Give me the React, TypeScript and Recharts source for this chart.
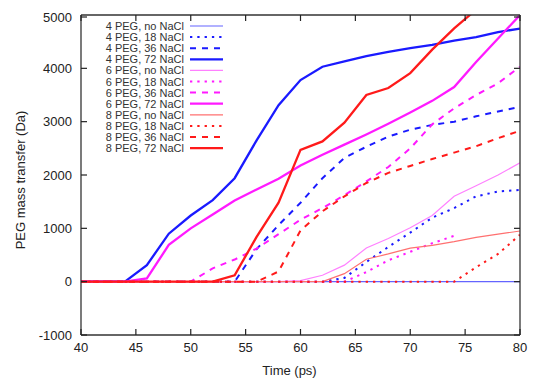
import { LineChart, Line, XAxis, YAxis, Legend, Label } from "recharts";

// time axis (ps), sampled every 2 ps
const TIME = [40, 42, 44, 46, 48, 50, 52, 54, 56, 58, 60, 62, 64, 66, 68, 70, 72, 74, 76, 78, 80];

// PEG mass transfer (Da)
const PEG4_NONE = [0, 0, 0, 0, 0, 0, 0, 0, 0, 0, 0, 0, 0, 0, 0, 0, 0, 0, 0, 0, 0];
const PEG4_18 = [0, 0, 0, 0, 0, 0, 0, 0, 0, 0, 0, 0, 70, 370, 650, 920, 1200, 1380, 1600, 1690, 1720];
const PEG4_36 = [0, 0, 0, 0, 0, 0, 0, 0, 610, 1060, 1480, 1940, 2320, 2530, 2720, 2850, 2940, 3000, 3100, 3190, 3280];
const PEG4_72 = [0, 0, 0, 310, 900, 1240, 1530, 1940, 2650, 3310, 3780, 4030, 4130, 4230, 4310, 4380, 4440, 4520, 4585, 4680, 4745];

const PEG6_NONE = [0, 0, 0, 0, 0, 0, 0, 0, 0, 0, 20, 120, 310, 630, 810, 1010, 1240, 1600, 1800, 2000, 2230];
const PEG6_18 = [0, 0, 0, 0, 0, 0, 0, 0, 0, 0, 0, 0, 0, 180, 400, 560, 720, 860, null, null, null];
const PEG6_36 = [0, 0, 0, 0, 0, 0, 250, 415, 620, 890, 1160, 1380, 1620, 1880, 2150, 2500, 2950, 3250, 3500, 3720, 4030];
const PEG6_72 = [0, 0, 0, 60, 690, 1000, 1260, 1520, 1730, 1930, 2180, 2380, 2570, 2760, 2960, 3170, 3390, 3650, 4120, 4560, 5000];

const PEG8_NONE = [0, 0, 0, 0, 0, 0, 0, 0, 0, 0, 0, 0, 150, 420, 520, 630, 680, 750, 830, 890, 950];
const PEG8_18 = [0, 0, 0, 0, 0, 0, 0, 0, 0, 0, 0, 0, 0, 0, 0, 0, 0, 0, 270, 520, 880];
const PEG8_36 = [0, 0, 0, 0, 0, 0, 0, 0, 0, 190, 960, 1320, 1600, 1850, 2040, 2170, 2300, 2420, 2540, 2690, 2830];
const PEG8_72 = [0, 0, 0, 0, 0, 0, 0, 120, 840, 1480, 2470, 2630, 2980, 3500, 3630, 3910, 4350, 4750, 5100, 5400, 5700];

const X_TICKS = [40, 45, 50, 55, 60, 65, 70, 75, 80];
const Y_TICKS = [-1000, 0, 1000, 2000, 3000, 4000, 5000];

const FONT = "'Liberation Sans', Arial, sans-serif";
const INK = "#222";
const DOT = "2.3 5";
const DASH = "6 6";
const TICK_LEN = 6;
const LABEL_GAP = 9;

const SERIES = [
  { key: "p4n", name: "4 PEG, no NaCl", values: PEG4_NONE, color: "#6464ff", width: 1.1, dash: undefined },
  { key: "p4a", name: "4 PEG, 18 NaCl", values: PEG4_18, color: "#1a1aff", width: 2, dash: DOT },
  { key: "p4b", name: "4 PEG, 36 NaCl", values: PEG4_36, color: "#1a1aff", width: 2, dash: DASH },
  { key: "p4c", name: "4 PEG, 72 NaCl", values: PEG4_72, color: "#1a1aff", width: 2.3, dash: undefined },
  { key: "p6n", name: "6 PEG, no NaCl", values: PEG6_NONE, color: "#ff80ff", width: 1.2, dash: undefined },
  { key: "p6a", name: "6 PEG, 18 NaCl", values: PEG6_18, color: "#ff1aff", width: 2, dash: DOT },
  { key: "p6b", name: "6 PEG, 36 NaCl", values: PEG6_36, color: "#ff1aff", width: 2, dash: DASH },
  { key: "p6c", name: "6 PEG, 72 NaCl", values: PEG6_72, color: "#ff1aff", width: 2.3, dash: undefined },
  { key: "p8n", name: "8 PEG, no NaCl", values: PEG8_NONE, color: "#ff7070", width: 1.2, dash: undefined },
  { key: "p8a", name: "8 PEG, 18 NaCl", values: PEG8_18, color: "#ff1a1a", width: 2, dash: DOT },
  { key: "p8b", name: "8 PEG, 36 NaCl", values: PEG8_36, color: "#ff1a1a", width: 2, dash: DASH },
  { key: "p8c", name: "8 PEG, 72 NaCl", values: PEG8_72, color: "#ff1a1a", width: 2.3, dash: undefined },
];

const data = TIME.map((t, i) => {
  const row: Record<string, number | null> = { t };
  SERIES.forEach((s) => {
    row[s.key] = s.values[i];
  });
  return row;
});

// gnuplot style: ticks point into the plot, labels outside
function BottomTick({ x, y, payload }: any) {
  const axisY = y - LABEL_GAP;
  return (
    <g>
      <line x1={x} x2={x} y1={axisY} y2={axisY - TICK_LEN} stroke={INK} strokeWidth={1.2} />
      <text x={x} y={axisY + 8} dy="0.71em" textAnchor="middle" fontSize={13} fontFamily={FONT} fill={INK}>
        {payload.value}
      </text>
    </g>
  );
}

function LeftTick({ x, y, payload }: any) {
  const axisX = x + LABEL_GAP;
  return (
    <g>
      <line x1={axisX} x2={axisX + TICK_LEN} y1={y} y2={y} stroke={INK} strokeWidth={1.2} />
      <text x={x} y={y} dy="0.36em" textAnchor="end" fontSize={13} fontFamily={FONT} fill={INK}>
        {payload.value}
      </text>
    </g>
  );
}

function TopTick({ x, y }: any) {
  return <line x1={x} x2={x} y1={y} y2={y + TICK_LEN} stroke={INK} strokeWidth={1.2} />;
}

function RightTick({ x, y }: any) {
  return <line x1={x - TICK_LEN} x2={x} y1={y} y2={y} stroke={INK} strokeWidth={1.2} />;
}

function LegendBox() {
  return (
    <svg width={240} height={160} style={{ display: "block" }}>
      {SERIES.map((s, i) => {
        const y = 18 + i * 11.1;
        return (
          <g key={s.key}>
            <text x={176} y={y} textAnchor="end" dominantBaseline="central" fontSize={11} fontFamily={FONT} fill="#333">
              {s.name}
            </text>
            <line x1={182} x2={215} y1={y} y2={y} stroke={s.color} strokeWidth={s.width} strokeDasharray={s.dash} />
          </g>
        );
      })}
    </svg>
  );
}

function YTitle(props: any) {
  const vb = props.viewBox || { x: 0, y: 0, width: 0, height: 0 };
  const cx = vb.x + 12;
  const cy = vb.y + vb.height / 2 + 5;
  return (
    <text x={cx} y={cy} transform={`rotate(-90, ${cx}, ${cy})`} textAnchor="middle" dominantBaseline="central" fontSize={13} fontFamily={FONT} fill={INK}>
      PEG mass transfer (Da)
    </text>
  );
}

const axisLine = { stroke: "#333", strokeWidth: 1.3 };

export default function App() {
  return (
    <div style={{ width: 535, height: 374 }}>
      <LineChart width={535} height={374} data={data} margin={{ top: 6, right: 22, bottom: 0, left: 0 }}>
        <XAxis
          dataKey="t"
          type="number"
          domain={[40, 80]}
          ticks={X_TICKS}
          allowDataOverflow
          height={47}
          tickSize={0}
          tickMargin={LABEL_GAP}
          axisLine={axisLine}
          tickLine={false}
          tick={<BottomTick />}
        >
          <Label value="Time (ps)" position="insideBottom" offset={7} dx={-11} fontSize={13} fontFamily={FONT} fill={INK} />
        </XAxis>
        <XAxis
          xAxisId="top"
          orientation="top"
          dataKey="t"
          type="number"
          domain={[40, 80]}
          ticks={X_TICKS}
          allowDataOverflow
          height={1}
          tickSize={0}
          tickMargin={0}
          tickLine={false}
          tick={<TopTick />}
          axisLine={axisLine}
        />
        <YAxis
          type="number"
          domain={[-1000, 5000]}
          ticks={Y_TICKS}
          allowDataOverflow
          width={73}
          tickSize={0}
          tickMargin={LABEL_GAP}
          axisLine={axisLine}
          tickLine={false}
          tick={<LeftTick />}
          label={{ content: YTitle }}
        />
        <YAxis
          yAxisId="right"
          orientation="right"
          type="number"
          domain={[-1000, 5000]}
          ticks={Y_TICKS}
          allowDataOverflow
          width={1}
          tickSize={0}
          tickMargin={0}
          tickLine={false}
          tick={<RightTick />}
          axisLine={axisLine}
        />
        <Legend
          layout="vertical"
          align="center"
          verticalAlign="middle"
          content={() => <LegendBox />}
          wrapperStyle={{ left: 0, top: 0, width: 240, height: 160 }}
        />
        {SERIES.map((s, i) => (
          <Line
            key={s.key}
            dataKey={s.key}
            name={s.name}
            xAxisId={i === 0 ? "top" : 0}
            yAxisId={i === 0 ? "right" : 0}
            type="linear"
            stroke={s.color}
            strokeWidth={s.width}
            strokeDasharray={s.dash}
            dot={false}
            activeDot={false}
            connectNulls={false}
            isAnimationActive={false}
          />
        ))}
      </LineChart>
    </div>
  );
}
